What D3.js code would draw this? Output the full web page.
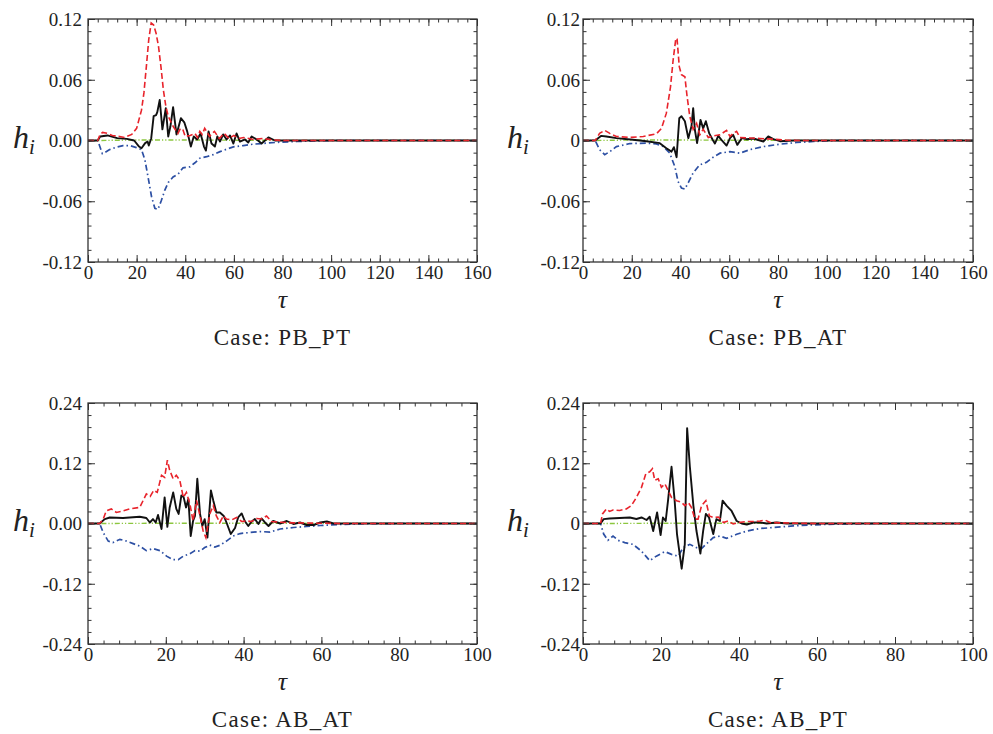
<!DOCTYPE html>
<html><head><meta charset="utf-8">
<script src="https://cdn.jsdelivr.net/npm/d3@7/dist/d3.min.js"></script>
<style>
body{margin:0;background:#fff;}
svg text{font-family:"Liberation Serif","DejaVu Serif",serif;fill:#222;}
</style></head><body>
<svg id="chart" width="993" height="734"></svg>
<script>
// ---------------- DATA ----------------
const caseNames = ["PB_PT", "PB_AT", "AB_AT", "AB_PT"];
const xTicksLong = [0, 20, 40, 60, 80, 100, 120, 140, 160];
const xTicksShort = [0, 20, 40, 60, 80, 100];
const yTicksSmall = [-0.12, -0.06, 0, 0.06, 0.12];
const yTicksLarge = [-0.24, -0.12, 0, 0.12, 0.24];
const yLabels_PB_PT = ["-0.12", "-0.06", "0.00", "0.06", "0.12"];
const yLabels_PB_AT = ["-0.12", "-0.06", "0", "0.06", "0.12"];
const yLabels_AB_AT = ["-0.24", "-0.12", "0.00", "0.12", "0.24"];
const yLabels_AB_PT = ["-0.24", "-0.12", "0", "0.12", "0.24"];

// [tau, h] pairs
const PB_PT_black = [[0,0],[4,0],[5,0.004],[8,0.005],[12,0.0023],[16,0.0016],[19,0],[21,-0.006],[22,-0.0076],[23.5,-0.0026],[24.5,-0.001],[25,-0.005],[26,0.002],[27,0.024],[28,0.025],[28.5,0.028],[29.5,0.040],[30.6,0.011],[32,0.032],[33,0.004],[33.9,0.014],[35,0.033],[36.4,0.006],[38.2,0.022],[39.6,0.018],[40.8,0.009],[42.3,-0.006],[43.5,0.004],[44.9,0.001],[46.3,0.007],[47.7,-0.006],[48.5,-0.010],[49.6,0.009],[50.8,-0.003],[52.2,-0.006],[53.2,0.004],[54.3,-0.001],[55.6,0.006],[57,0.001],[58.4,0.005],[59.8,-0.003],[61.1,0.007],[62.5,-0.001],[64.6,0.001],[65.9,-0.002],[67.3,0.004],[69.4,0.001],[71.4,-0.003],[74.2,0.003],[76.9,0],[160,0]];
const PB_PT_red = [[0,0],[4,0],[5,0.006],[6,0.008],[8,0.007],[10,0.005],[13,0.004],[15,0.003],[18,0.006],[20,0.012],[22,0.03],[23,0.047],[24,0.073],[25,0.10],[26,0.116],[27,0.114],[28,0.106],[29,0.093],[30,0.073],[31,0.05],[32,0.034],[33,0.024],[35,0.014],[37,0.007],[38,0.012],[39,0.011],[40,0.004],[42,0.005],[44,0.007],[45,0.003],[46,0.009],[47,0.006],[48,0.012],[50,0.004],[51,0.007],[52,0.009],[54,0.002],[56,0.007],[58,0.002],[60,0.005],[62,0.002],[64,0.003],[68,0.001],[72,0.002],[76,0.0005],[80,0],[160,0]];
const PB_PT_blue = [[0,0],[4,0],[5.9,-0.013],[6.9,-0.012],[8.9,-0.009],[11.7,-0.0066],[14.4,-0.005],[17.2,-0.005],[19.9,-0.007],[22,-0.009],[23.4,-0.019],[24.7,-0.036],[26.1,-0.055],[27.5,-0.067],[28.8,-0.068],[30.2,-0.059],[31.6,-0.049],[33,-0.0415],[35,-0.036],[37.1,-0.033],[39.1,-0.027],[41.9,-0.026],[44,-0.022],[46,-0.0175],[48.8,-0.016],[51.5,-0.014],[54.3,-0.011],[57,-0.0086],[59.8,-0.0063],[63.9,-0.005],[68,-0.0036],[73.5,-0.0026],[79,-0.0016],[85.8,-0.001],[92.7,-0.0005],[100,0],[160,0]];
const PB_PT_green = [[0,0],[4,0],[20,0.0005],[40,0.0005],[60,0.0003],[80,0.0001],[160,0]];

const PB_AT_black = [[0,0],[5,0],[7.5,0.0046],[9.6,0.004],[13.7,0.0023],[20.5,0.0007],[26,-0.0007],[31.5,-0.0026],[34.2,-0.0076],[36.3,-0.011],[37.3,-0.0066],[38.4,-0.0165],[39.5,0.022],[40.4,0.024],[41.8,0.019],[43.2,0.0023],[44.5,0.014],[45.2,0.032],[45.9,0.0105],[46.8,-0.0026],[48.2,0.0204],[49.3,0.012],[50.4,0.019],[51.8,0.007],[53.2,0.0007],[54.1,-0.003],[55.5,0.0046],[56.8,0.0007],[58.9,-0.005],[60.3,0.0023],[61.6,0.0056],[63.3,-0.0043],[65.1,0.0023],[67.1,0.0013],[69.9,0.002],[74,-0.001],[76,0.004],[78.1,0.0013],[80.8,-0.0007],[86.3,0],[160,0]];
const PB_AT_red = [[0,0],[5,0],[6.8,0.007],[8.9,0.01],[11,0.007],[13.7,0.004],[19.2,0.003],[24.7,0.004],[30.1,0.0066],[32.2,0.012],[34.2,0.027],[35.9,0.053],[37,0.08],[38.1,0.101],[38.6,0.10],[39.5,0.073],[40.4,0.065],[41.8,0.063],[42.7,0.0435],[43.8,0.024],[45.2,0.011],[46.6,0.017],[47.9,0.0056],[49.3,0.011],[51.4,0.003],[53.4,0.0046],[56.2,0.0056],[58.9,0.01],[60.3,0.004],[61.6,0.007],[63,0.009],[64.4,0.003],[67.1,0.0026],[72.6,0.002],[78.1,0.0013],[83.6,0.0003],[90,0],[160,0]];
const PB_AT_blue = [[0,0],[5,0],[6.8,-0.009],[8.9,-0.014],[11,-0.011],[13.7,-0.006],[19.2,-0.003],[26,-0.0026],[30.1,-0.0033],[32.9,-0.006],[35.6,-0.0125],[37.7,-0.026],[39,-0.0405],[40.4,-0.047],[41.8,-0.048],[43.2,-0.0415],[45.2,-0.032],[47.9,-0.024],[50.7,-0.0215],[53.4,-0.0165],[56.2,-0.0125],[60.3,-0.011],[64.4,-0.0125],[68.5,-0.009],[74,-0.006],[80.8,-0.0036],[87.7,-0.002],[94.5,-0.001],[102.7,0],[160,0]];
const PB_AT_green = [[0,0],[5,0],[20,0.0005],[40,0.0005],[60,0.0003],[80,0.0001],[160,0]];

const AB_AT_black = [[0,0],[3,0],[4.3,0.0087],[5.6,0.012],[9,0.011],[13.3,0.0134],[15,0.011],[15.9,0.002],[16.7,0.0087],[17.4,0.002],[18,0.017],[18.9,-0.011],[19.7,0.052],[20.4,-0.0067],[21,0.032],[21.9,0.062],[22.7,0.029],[23.3,0.019],[24,0.056],[24.6,0.052],[25.2,0.032],[25.8,0.049],[26.4,-0.025],[27,0.005],[27.5,0.015],[28.1,0.089],[28.8,0.019],[29.4,-0.005],[30,0.0087],[30.7,-0.028],[31.6,0.066],[32.2,0.046],[33,0.022],[33.9,0.022],[34.9,0.015],[35.6,0.002],[36.7,-0.021],[37.8,-0.009],[38.6,0.012],[39.5,0.02],[40.3,0.005],[41.2,-0.005],[42.1,0.004],[42.9,0.009],[43.8,-0.001],[44.6,0.01],[45.5,0.002],[46.4,-0.005],[47.6,0.005],[49.4,0],[51.1,0.005],[52.8,-0.001],[54.5,0.002],[56.2,-0.003],[58,-0.003],[59.7,0.002],[61.4,0.004],[63.1,0],[100,0]];
const AB_AT_red = [[0,0],[3,0],[3.9,0.0087],[4.7,0.025],[6,0.029],[7.3,0.022],[9,0.025],[10.7,0.029],[13.3,0.032],[15,0.059],[16,0.054],[16.9,0.066],[17.8,0.062],[18.9,0.096],[19.7,0.092],[20.4,0.126],[21,0.106],[21.9,0.089],[22.7,0.096],[23.6,0.086],[24.5,0.052],[25.3,0.062],[26.2,0.039],[27,0.005],[27.9,0.046],[28.8,0.015],[29.6,-0.015],[30.3,-0.028],[31.3,0.019],[32.2,0.0355],[33,0.015],[33.9,0.002],[34.8,0.015],[35.6,0.009],[36.9,0.007],[38.2,0.012],[39.5,0.004],[40.8,0.005],[42.1,0.004],[43.3,0.01],[44.6,0.009],[45.9,0.015],[47.2,0.004],[49.4,0.0027],[52.8,0.0013],[58,0.0007],[65,0],[100,0]];
const AB_AT_blue = [[0,0],[3,0],[3.9,-0.018],[5.2,-0.035],[6.4,-0.038],[8.2,-0.0315],[9.9,-0.035],[11.6,-0.04],[13.3,-0.045],[15,-0.054],[16.7,-0.05],[18.5,-0.054],[20.2,-0.065],[21.9,-0.072],[23.2,-0.072],[24.5,-0.065],[26.2,-0.06],[27.5,-0.054],[28.8,-0.055],[30,-0.048],[31.3,-0.043],[32.6,-0.047],[33.9,-0.0435],[35.6,-0.035],[37.3,-0.025],[39.1,-0.02],[41.6,-0.018],[44.2,-0.016],[46.8,-0.017],[49.4,-0.011],[52.8,-0.008],[56.2,-0.006],[59.7,-0.004],[64.8,-0.002],[70.8,-0.0005],[80,0],[100,0]];
const AB_AT_green = [[0,0],[3,0],[20,0.0005],[40,0.0005],[60,0.0003],[80,0.0001],[100,0]];

const AB_PT_black = [[0,0],[4.5,0],[5.3,0.0087],[6.8,0.01],[9.4,0.011],[12,0.012],[13.7,0.009],[15,0.012],[16.3,0.007],[17.1,0.0134],[18,-0.015],[19,0.022],[19.9,-0.023],[20.5,0.012],[21.2,0.005],[21.8,0.0455],[22.7,0.113],[23.5,0.0455],[24.1,-0.021],[25.3,-0.09],[26.1,-0.0415],[26.7,0.19],[27.4,0.113],[28.3,0.0355],[29.1,-0.015],[30.1,-0.06],[30.8,-0.015],[31.5,0.019],[32.3,0.012],[33.4,-0.021],[34.2,0.0087],[35.1,0.005],[35.8,0.0455],[36.8,0.0355],[38.1,0.025],[39.4,0.005],[40.7,0],[42,-0.002],[43.7,0.002],[45.4,0.002],[47.1,0],[49.7,0.002],[52.2,0],[100,0]];
const AB_PT_red = [[0,0],[4.5,0],[5,0.019],[6,0.029],[6.8,0.024],[7.7,0.027],[9.4,0.026],[11.1,0.029],[12.4,0.0355],[13.7,0.052],[15,0.072],[16.1,0.099],[17.1,0.103],[17.8,0.109],[18.4,0.086],[19.3,0.089],[20.1,0.072],[21,0.079],[21.8,0.066],[22.7,0.052],[24,0.0455],[25.3,0.042],[26.1,0.0355],[27,0.042],[27.8,0.032],[28.7,0.0087],[29.5,0.0087],[30.4,0.0355],[31.5,0.0455],[32.4,0.015],[33.4,0.012],[34.7,0.013],[36,0.002],[37.2,0.005],[38.5,-0.001],[39.8,0.002],[42,0.004],[43.7,0.004],[45.4,0.005],[46.7,0.0067],[48,0.002],[50.5,0.0013],[53.9,0.0007],[60,0],[100,0]];
const AB_PT_blue = [[0,0],[4.5,0],[5.3,-0.021],[6.4,-0.0335],[7.7,-0.025],[9,-0.0335],[10.7,-0.038],[12.8,-0.0415],[15,-0.055],[17.1,-0.074],[18.8,-0.065],[21,-0.056],[22.7,-0.0615],[24.4,-0.065],[25.7,-0.048],[27.4,-0.0415],[29.1,-0.048],[30.4,-0.05],[31.7,-0.04],[33.4,-0.028],[35.1,-0.025],[36.8,-0.0295],[39.4,-0.0215],[42,-0.015],[45.4,-0.01],[48.8,-0.008],[53.9,-0.0047],[59.1,-0.0027],[65.9,-0.001],[75,0],[100,0]];
const AB_PT_green = [[0,0],[4.5,0],[20,0.0005],[40,0.0005],[60,0.0003],[80,0.0001],[100,0]];

// ---------------- LAYOUT ----------------
const panels = [
  {name: caseNames[0], x0: 88, x1: 477, y0: 19, y1: 262, xMax: 160, xTicks: xTicksLong, yMax: 0.12, yTicks: yTicksSmall, yLabels: yLabels_PB_PT, gap: 6, hx: 13,
   black: PB_PT_black, red: PB_PT_red, blue: PB_PT_blue, green: PB_PT_green},
  {name: caseNames[1], x0: 583, x1: 973, y0: 19, y1: 262, xMax: 160, xTicks: xTicksLong, yMax: 0.12, yTicks: yTicksSmall, yLabels: yLabels_PB_AT, gap: 3, hx: 507,
   black: PB_AT_black, red: PB_AT_red, blue: PB_AT_blue, green: PB_AT_green},
  {name: caseNames[2], x0: 88, x1: 477, y0: 403, y1: 644, xMax: 100, xTicks: xTicksShort, yMax: 0.24, yTicks: yTicksLarge, yLabels: yLabels_AB_AT, gap: 6, hx: 13,
   black: AB_AT_black, red: AB_AT_red, blue: AB_AT_blue, green: AB_AT_green},
  {name: caseNames[3], x0: 583, x1: 973, y0: 403, y1: 644, xMax: 100, xTicks: xTicksShort, yMax: 0.24, yTicks: yTicksLarge, yLabels: yLabels_AB_PT, gap: 3, hx: 507,
   black: AB_PT_black, red: AB_PT_red, blue: AB_PT_blue, green: AB_PT_green}
];

const SERIF = '"Liberation Serif","DejaVu Serif",serif';
const svg = d3.select("#chart");
const frameColor = "#333";

panels.forEach(p => {
  const x = d3.scaleLinear().domain([0, p.xMax]).range([p.x0, p.x1]);
  const y = d3.scaleLinear().domain([-p.yMax, p.yMax]).range([p.y1, p.y0]);
  const g = svg.append("g");

  const xStep = (p.xTicks[1] - p.xTicks[0]) / 5;
  const yStep = (p.yTicks[1] - p.yTicks[0]) / 5;
  const xMinor = d3.range(0, p.xMax + 1e-9, xStep);
  const yMinor = d3.range(-p.yMax, p.yMax + 1e-9, yStep);

  const clipId = "clip-" + p.name;
  svg.append("clipPath").attr("id", clipId).append("rect")
    .attr("x", p.x0).attr("y", p.y0).attr("width", p.x1 - p.x0).attr("height", p.y1 - p.y0);

  const line = d3.line().x(d => x(d[0])).y(d => y(d[1]));
  const lg = g.append("g").attr("clip-path", `url(#${clipId})`);
  lg.append("path").datum(p.green).attr("d", line).attr("fill", "none")
    .attr("stroke", "#8cc63f").attr("stroke-width", 1.4).attr("stroke-dasharray", "5,2,1.2,2,1.2,2");
  lg.append("path").datum(p.blue).attr("d", line).attr("fill", "none")
    .attr("stroke", "#2c4fa3").attr("stroke-width", 1.7).attr("stroke-dasharray", "6,3,1.5,3");
  lg.append("path").datum(p.black).attr("d", line).attr("fill", "none")
    .attr("stroke", "#111").attr("stroke-width", 1.9).attr("stroke-linejoin", "round");
  lg.append("path").datum(p.red).attr("d", line).attr("fill", "none")
    .attr("stroke", "#e8232b").attr("stroke-width", 1.6).attr("stroke-dasharray", "6,3");

  const axB = d3.axisBottom(x).tickValues(p.xTicks).tickSizeInner(-7).tickSizeOuter(0).tickFormat(d => d);
  const axBm = d3.axisBottom(x).tickValues(xMinor).tickSizeInner(-3.5).tickSizeOuter(0).tickFormat("");
  const axT = d3.axisTop(x).tickValues(p.xTicks).tickSizeInner(-7).tickSizeOuter(0).tickFormat("");
  const axTm = d3.axisTop(x).tickValues(xMinor).tickSizeInner(-3.5).tickSizeOuter(0).tickFormat("");
  const axL = d3.axisLeft(y).tickValues(p.yTicks).tickSizeInner(-7).tickSizeOuter(0)
    .tickFormat((d, i) => p.yLabels[i]);
  const axLm = d3.axisLeft(y).tickValues(yMinor).tickSizeInner(-3.5).tickSizeOuter(0).tickFormat("");
  const axR = d3.axisRight(y).tickValues(p.yTicks).tickSizeInner(-7).tickSizeOuter(0).tickFormat("");
  const axRm = d3.axisRight(y).tickValues(yMinor).tickSizeInner(-3.5).tickSizeOuter(0).tickFormat("");

  const put = (ax, tx, ty) => {
    const a = g.append("g").attr("transform", `translate(${tx},${ty})`).call(ax);
    a.attr("font-family", SERIF);
    a.select(".domain").remove();
    a.selectAll("line").attr("stroke", frameColor).attr("stroke-width", 1);
    return a;
  };
  const bx = put(axB, 0, p.y1);
  put(axBm, 0, p.y1); put(axT, 0, p.y0); put(axTm, 0, p.y0);
  const ly = put(axL, p.x0, 0);
  put(axLm, p.x0, 0); put(axR, p.x1, 0); put(axRm, p.x1, 0);

  bx.selectAll("text").attr("y", 4).attr("dy", "0.71em")
    .style("font-family", SERIF).style("font-size", "19px").attr("fill", "#222");
  ly.selectAll("text").attr("x", -p.gap).attr("dy", "0.34em")
    .style("font-family", SERIF).style("font-size", "19px").attr("fill", "#222");

  g.append("rect").attr("x", p.x0).attr("y", p.y0).attr("width", p.x1 - p.x0).attr("height", p.y1 - p.y0)
    .attr("fill", "none").attr("stroke", frameColor).attr("stroke-width", 1.3);

  const cx = (p.x0 + p.x1) / 2;
  g.append("text").attr("x", cx).attr("y", p.y1 + 46).attr("text-anchor", "middle")
    .style("font-family", SERIF).style("font-size", "26px").style("font-style", "italic").text("τ");
  g.append("text").attr("x", cx).attr("y", p.y1 + 83).attr("text-anchor", "middle")
    .style("font-family", SERIF).style("font-size", "23px").style("letter-spacing", "1.3px")
    .text("Case:  " + p.name);
  const hy = y(0) + 7;
  const ht = g.append("text").attr("x", p.hx).attr("y", hy)
    .style("font-family", SERIF).style("font-size", "32px").style("font-style", "italic");
  ht.append("tspan").text("h");
  ht.append("tspan").attr("dy", 6).style("font-size", "21px").text("i");
});
</script>
</body></html>
